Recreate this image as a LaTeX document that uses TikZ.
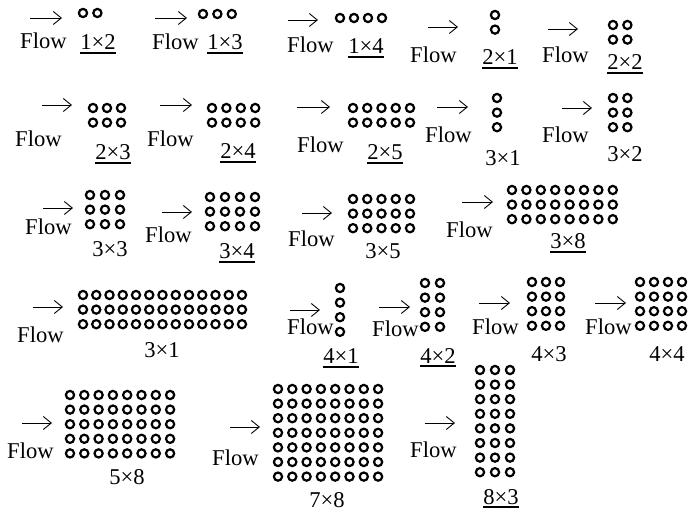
\documentclass[tikz,border=0pt]{standalone}
\usepackage{fontspec}
\setmainfont{Liberation Serif}
\usetikzlibrary{arrows.meta}

% bank of tubes: [pitch]{rows}{cols}{x}{y} of the top left tube
\newcommand{\tubebank}[5][14.4]{%
  \foreach \rr in {1,...,#2}{%
    \foreach \cc in {1,...,#3}{%
      \draw[tube] ({#4+(\cc-1)*#1},{#5+(\rr-1)*14.6}) circle[radius=4.1pt];}}}
\newcommand{\underlab}[1]{\draw[ul] ([yshift=-3pt]#1.base west) -- ([yshift=-3pt]#1.base east);}

\begin{document}
\begin{tikzpicture}[x=1pt,y=-1pt,
  tube/.style={line width=2.2pt},
  flowarrow/.style={line width=0.9pt,-{Straight Barb[length=8pt,width=13pt]}},
  flowword/.style={anchor=base west,inner sep=0pt,font=\fontsize{22.6}{26}\selectfont},
  caselab/.style={anchor=base,inner sep=0pt,font=\fontsize{22.6}{26}\selectfont},
  ul/.style={line width=1.6pt}]
  \useasboundingbox (0,0) rectangle (689,513);

  % row 1
  \draw[flowarrow] (30,18) -- (62,18);
  \node[flowword] (f12) at (20,49) {Flow};
  \tubebank{1}{2}{83}{13}
  \node[caselab] (l12) at (98,50) {1×2};
  \underlab{l12}

  \draw[flowarrow] (155,18) -- (187,18);
  \node[flowword] (f13) at (152,50) {Flow};
  \tubebank{1}{3}{203}{14}
  \node[caselab] (l13) at (225,50) {1×3};
  \underlab{l13}

  \draw[flowarrow] (288,20) -- (318,20);
  \node[flowword] (f14) at (287,53) {Flow};
  \tubebank[14]{1}{4}{340}{18}
  \node[caselab] (l14) at (366,54) {1×4};
  \underlab{l14}

  \draw[flowarrow] (428,27) -- (458,27);
  \node[flowword] (f21) at (410,63) {Flow};
  \tubebank{2}{1}{495}{15}
  \node[caselab] (l21) at (500,65) {2×1};
  \underlab{l21}

  \draw[flowarrow] (548,29) -- (578,29);
  \node[flowword] (f22) at (542,63) {Flow};
  \tubebank{2}{2}{613}{25}
  \node[caselab] (l22) at (625,70) {2×2};
  \underlab{l22}

  % row 2
  \draw[flowarrow] (42,105) -- (72,105);
  \node[flowword] (f23) at (15,147) {Flow};
  \tubebank[14]{2}{3}{93}{108}
  \node[caselab] (l23) at (113,160) {2×3};
  \underlab{l23}

  \draw[flowarrow] (160,105) -- (192,105);
  \node[flowword] (f24) at (147,147) {Flow};
  \tubebank{2}{4}{212}{108}
  \node[caselab] (l24) at (238,159) {2×4};
  \underlab{l24}

  \draw[flowarrow] (297,107) -- (330,107);
  \node[flowword] (f25) at (297,153) {Flow};
  \tubebank[14.25]{2}{5}{353}{108}
  \node[caselab] (l25) at (385,160) {2×5};
  \underlab{l25}

  \draw[flowarrow] (437,107) -- (468,107);
  \node[flowword] (f31) at (425,143) {Flow};
  \tubebank{3}{1}{497}{98}
  \node[caselab] (l31) at (503,166) {3×1};

  \draw[flowarrow] (562,108) -- (592,108);
  \node[flowword] (f32) at (542,143) {Flow};
  \tubebank{3}{2}{613}{98}
  \node[caselab] (l32) at (625,162) {3×2};

  % row 3
  \draw[flowarrow] (43,208) -- (73,208);
  \node[flowword] (f33) at (25,235) {Flow};
  \tubebank[15]{3}{3}{90}{195}
  \node[caselab] (l33) at (110,257) {3×3};

  \draw[flowarrow] (162,212) -- (192,212);
  \node[flowword] (f34) at (145,243) {Flow};
  \tubebank[15]{3}{4}{210}{197}
  \node[caselab] (l34) at (237,259) {3×4};
  \underlab{l34}

  \draw[flowarrow] (302,213) -- (332,213);
  \node[flowword] (f35) at (288,247) {Flow};
  \tubebank[14.25]{3}{5}{353}{199}
  \node[caselab] (l35) at (383,259) {3×5};

  \draw[flowarrow] (462,202) -- (493,202);
  \node[flowword] (f38) at (446,238) {Flow};
  \tubebank{3}{8}{512}{190}
  \node[caselab] (l38) at (568,249) {3×8};
  \underlab{l38}

  % row 4
  \draw[flowarrow] (33,307) -- (63,307);
  \node[flowword] (f313) at (17,343) {Flow};
  \tubebank[13.25]{3}{13}{83}{295}
  \node[caselab] (l313) at (162,358) {3×1};

  \draw[flowarrow] (290,310) -- (320,310);
  \node[flowword] (f41) at (287,335) {Flow};
  \tubebank{4}{1}{340}{288}
  \node[caselab] (l41) at (341,364) {4×1};
  \underlab{l41}

  \draw[flowarrow] (379,307) -- (410,307);
  \node[flowword] (f42) at (372,337) {Flow};
  \tubebank[15]{4}{2}{425}{283}
  \node[caselab] (l42) at (438,363) {4×2};
  \underlab{l42}

  \draw[flowarrow] (479,303) -- (510,303);
  \node[flowword] (f43) at (472,335) {Flow};
  \tubebank[14]{4}{3}{532}{282}
  \node[caselab] (l43) at (549,362) {4×3};

  \draw[flowarrow] (595,303) -- (626,303);
  \node[flowword] (f44) at (585,335) {Flow};
  \tubebank[14]{4}{4}{640}{282}
  \node[caselab] (l44) at (667,362) {4×4};

  % row 5
  \draw[flowarrow] (22,423) -- (52,423);
  \node[flowword] (f58) at (7,458) {Flow};
  \tubebank[14.3]{5}{8}{70}{395}
  \node[caselab] (l58) at (127,484) {5×8};

  \draw[flowarrow] (230,427) -- (260,427);
  \node[flowword] (f78) at (212,465) {Flow};
  \tubebank[14.3]{7}{8}{278}{389}
  \node[caselab] (l78) at (327,507) {7×8};

  \draw[flowarrow] (425,423) -- (455,423);
  \node[flowword] (f83) at (410,457) {Flow};
  \tubebank[15]{8}{3}{480}{370}
  \node[caselab] (l83) at (501,504) {8×3};
  \underlab{l83}
\end{tikzpicture}
\end{document}
